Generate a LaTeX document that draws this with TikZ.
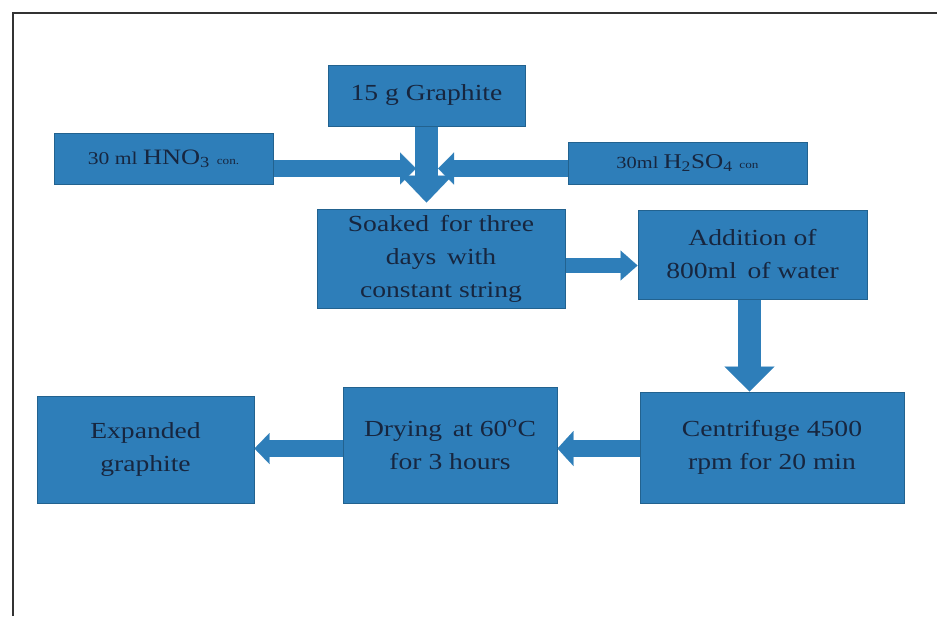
\documentclass[tikz,border=0pt]{standalone}
\usepackage{fontspec}
\setmainfont{Liberation Serif}[FakeStretch=1.2]
\usetikzlibrary{arrows.meta,calc}
\definecolor{boxblue}{HTML}{2E7EB9}
\definecolor{boxedge}{HTML}{22628F}
\definecolor{txt}{HTML}{17263F}
\definecolor{framegray}{HTML}{333333}
\begin{document}
\begin{tikzpicture}[x=1pt,y=-1pt,
  box/.style={draw=boxedge, line width=1pt, fill=boxblue, text=txt, align=center,
    inner sep=0pt, font=\fontsize{23}{33}\selectfont},
  flowarrow/.style={draw=boxblue, line width=#1},
  bigtip/.style={-{Triangle[width=52pt,length=27pt,line width=0.1pt]}},
  smalltip/.style={-{Triangle[width=32pt,length=16pt,line width=0.1pt]}}
]
\useasboundingbox (0,0) rectangle (937,616);
\draw[framegray, line width=2pt] (13,616) -- (13,13) -- (937,13);

\node[box, minimum width=197pt, minimum height=61pt] (graphite) at (426.5,95.5) {15 g Graphite};
\node[box, minimum width=219pt, minimum height=51pt] (hno3) at (163.5,158.5)
  {{\fontsize{18}{20}\selectfont 30 ml }{\fontsize{22}{24}\selectfont HNO\textsubscript{3}} {\fontsize{11}{12}\selectfont con.}};
\node[box, minimum width=239pt, minimum height=42pt] (h2so4) at (687.5,163)
  {{\fontsize{17}{20}\selectfont 30ml }{\fontsize{21}{24}\selectfont H\textsubscript{2}SO\textsubscript{4}} {\fontsize{11}{12}\selectfont con}};
\node[box, minimum width=248pt, minimum height=99pt] (soaked) at (441,258.5)
  {Soaked\, for three\\days\, with\\constant string};
\node[box, minimum width=229pt, minimum height=89pt] (addition) at (752.5,254.5)
  {Addition of\\800ml\, of water};
\node[box, minimum width=264pt, minimum height=111pt] (centrifuge) at (772,447.5)
  {Centrifuge 4500\\rpm for 20 min};
\node[box, minimum width=214pt, minimum height=116pt] (drying) at (450,445)
  {Drying\, at 60\textsuperscript{o}C\\for 3 hours};
\node[box, minimum width=217pt, minimum height=107pt] (expanded) at (145.5,449.5)
  {Expanded\\graphite};

\coordinate (jl) at (416,168.5);
\coordinate (jr) at (438,168.5);
\coordinate (ly) at (0,448.5);

\draw[flowarrow=17pt, smalltip] (hno3.east |- jl) -- (jl);
\draw[flowarrow=17pt, smalltip] (h2so4.west |- jr) -- (jr);
\draw[flowarrow=23pt, bigtip] (graphite.south) -- ($(graphite.south |- soaked.north)+(0,-6)$);
\draw[flowarrow=15pt, -{Triangle[width=30pt,length=17pt,line width=0.1pt]}]
  ($(soaked.east)+(0,7)$) -- ($(soaked.east -| addition.west)+(0,7)$);
\draw[flowarrow=23pt, -{Triangle[width=50pt,length=25pt,line width=0.1pt]}]
  ($(addition.south)+(-3,0)$) -- ($(addition.south |- centrifuge.north)+(-3,0)$);
\draw[flowarrow=17pt, -{Triangle[width=35pt,length=16pt,line width=0.1pt]}]
  (centrifuge.west |- ly) -- (drying.east |- ly);
\draw[flowarrow=17pt, -{Triangle[width=31pt,length=15pt,line width=0.1pt]}]
  (drying.west |- ly) -- (expanded.east |- ly);
\end{tikzpicture}
\end{document}
